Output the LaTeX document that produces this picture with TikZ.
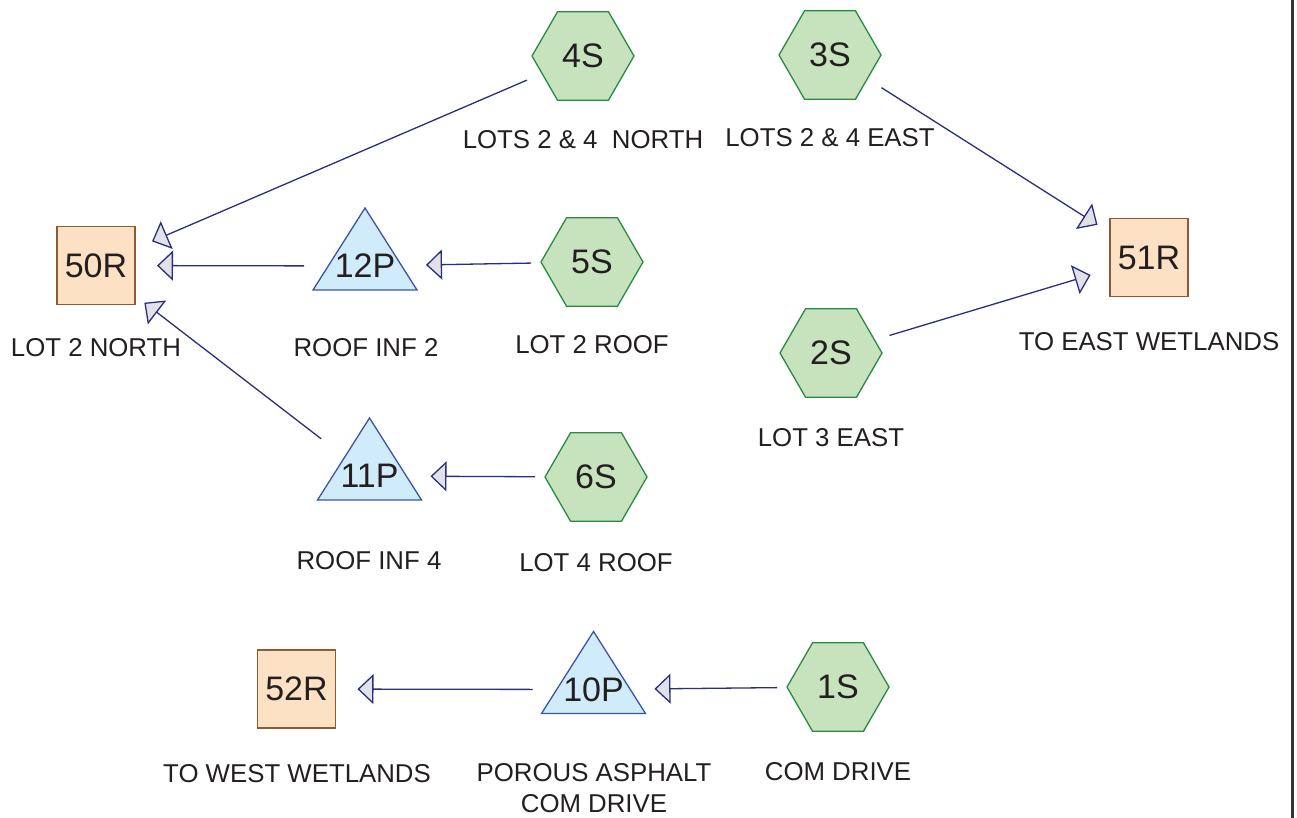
\documentclass[tikz,border=0pt]{standalone}
\usepackage{fontspec}
\setmainfont{Liberation Sans}
\usetikzlibrary{shapes.geometric,arrows.meta,backgrounds}
\definecolor{hexfill}{HTML}{C7E3BE}
\definecolor{hexdraw}{HTML}{2A8A44}
\definecolor{trifill}{HTML}{D0ECFA}
\definecolor{tridraw}{HTML}{3B55A5}
\definecolor{sqfill}{HTML}{FDE1C4}
\definecolor{sqdraw}{HTML}{8E5A32}
\definecolor{arrline}{HTML}{2B2E7E}
\definecolor{arrfill}{HTML}{E1E2E7}
\definecolor{txt}{HTML}{231F20}
\definecolor{framecol}{HTML}{333333}
\begin{document}
\begin{tikzpicture}[x=1pt,y=-1pt,
  subcat/.style={regular polygon, regular polygon sides=6, minimum size=102pt, inner sep=0pt,
    draw=hexdraw, fill=hexfill, line width=1.3pt, font=\fontsize{34}{40}\selectfont, text=txt},
  pondtext/.style={inner sep=0pt, font=\fontsize{34}{40}\selectfont, text=txt},
  reach/.style={rectangle, minimum width=78pt, minimum height=78pt, inner sep=0pt,
    draw=sqdraw, fill=sqfill, line width=1.3pt, font=\fontsize{34}{40}\selectfont, text=txt},
  lbl/.style={font=\fontsize{25.8}{30.5}\selectfont, text=txt, inner sep=0pt, align=center},
  flow/.style={draw=arrline, line width=1.3pt, -{Triangle[length=16pt,width=30pt,fill=arrfill]},
    shorten <=61pt, shorten >=61pt},
  pondshape/.style={draw=tridraw, fill=trifill, line width=1.3pt, line join=miter}
]
\useasboundingbox (0,0) rectangle (1297,818);
\draw[framecol, line width=3pt] (1292,0) -- (1292,818);

% subcatchments
\node[subcat] (4S) at (583,56) {4S};
\node[subcat] (3S) at (830,55) {3S};
\node[subcat] (5S) at (592,262) {5S};
\node[subcat] (2S) at (831,353) {2S};
\node[subcat] (6S) at (596,477) {6S};
\node[subcat] (1S) at (838,687) {1S};

% ponds
\node[pondtext] (12P) at (365,266) {12P};
\node[pondtext] (11P) at (369.5,476) {11P};
\node[pondtext] (10P) at (593.5,689.5) {10P};
\begin{scope}[on background layer]
\fill[white] (0,0) rectangle (1290,818);
\foreach \n in {12P,11P,10P}
  \draw[pondshape, shift={(\n.center)}] (0,-58) -- (52,24) -- (-52,24) -- cycle;
\end{scope}

% reaches
\node[reach] (50R) at (96,265.5) {50R};
\node[reach] (51R) at (1149,257.5) {51R};
\node[reach] (52R) at (296.5,689) {52R};

% labels
\node[lbl] (l4S) at (583,140) {LOTS 2 \& 4\ \ NORTH};
\node[lbl] (l3S) at (830,138) {LOTS 2 \& 4 EAST};
\node[lbl] (l50R) at (96,348) {LOT 2 NORTH};
\node[lbl] (l12P) at (366,348) {ROOF INF 2};
\node[lbl] (l5S) at (592,345) {LOT 2 ROOF};
\node[lbl] (l51R) at (1149,342) {TO EAST WETLANDS};
\node[lbl] (l2S) at (831,438) {LOT 3 EAST};
\node[lbl] (l11P) at (369,561) {ROOF INF 4};
\node[lbl] (l6S) at (596,563) {LOT 4 ROOF};
\node[lbl] (l52R) at (297,774) {TO WEST WETLANDS};
\node[lbl] (l10P) at (594,788) {POROUS ASPHALT\\COM DRIVE};
\node[lbl] (l1S) at (838,772) {COM DRIVE};

% flows
\draw[flow] (4S.center) -- (50R.center);
\draw[flow] (12P.center) -- (50R.center);
\draw[flow] (11P.center) -- (50R.center);
\draw[flow] (5S.center) -- (12P.center);
\draw[flow] (6S.center) -- (11P.center);
\draw[flow] (3S.center) -- (51R.center);
\draw[flow] (2S.center) -- (51R.center);
\draw[flow] (1S.center) -- (10P.center);
\draw[flow] (10P.center) -- (52R.center);
\end{tikzpicture}
\end{document}
